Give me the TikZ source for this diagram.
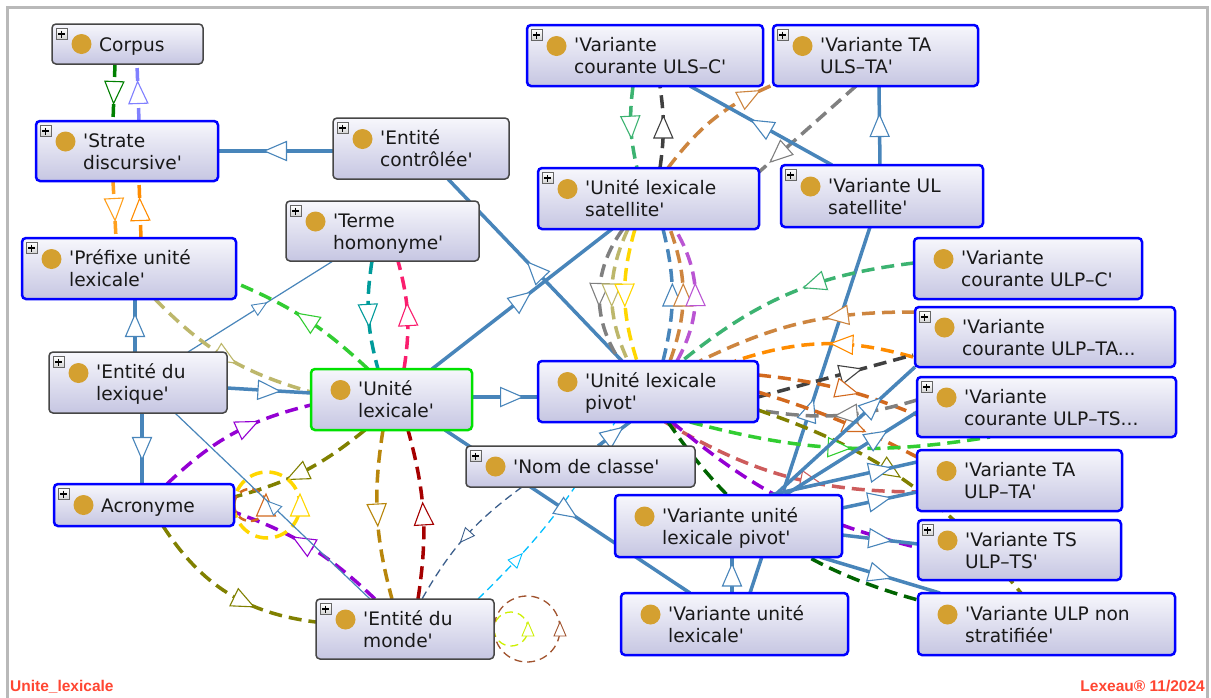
\documentclass[tikz,border=0pt]{standalone}
\usepackage{fontspec}
\setmainfont{DejaVu Sans}[Ligatures=TeXOff]
\newfontfamily\footfont{Liberation Sans}
\usetikzlibrary{calc,decorations.markings}
\pgfdeclarelayer{bg}
\pgfdeclarelayer{edges}
\pgfsetlayers{bg,edges,main}

\definecolor{cSteel}{RGB}{72,133,186}
\definecolor{cDG}{RGB}{0,128,0}
\definecolor{cLB}{RGB}{128,128,255}
\definecolor{cOrA}{RGB}{255,160,30}
\definecolor{cOrB}{RGB}{255,140,0}
\definecolor{cTeal}{RGB}{0,155,155}
\definecolor{cCrim}{RGB}{250,30,110}
\definecolor{cLime}{RGB}{50,205,50}
\definecolor{cKhaki}{RGB}{189,183,107}
\definecolor{cPurp}{RGB}{148,0,211}
\definecolor{cOlive}{RGB}{128,128,0}
\definecolor{cGold}{RGB}{255,215,0}
\definecolor{cChoc}{RGB}{210,105,30}
\definecolor{cDGold}{RGB}{184,134,11}
\definecolor{cDRed}{RGB}{165,0,0}
\definecolor{cSlate}{RGB}{60,95,140}
\definecolor{cSky}{RGB}{0,191,255}
\definecolor{cYG}{RGB}{205,240,0}
\definecolor{cSienna}{RGB}{160,82,45}
\definecolor{cSea}{RGB}{60,179,113}
\definecolor{cDGray}{RGB}{64,64,64}
\definecolor{cGray}{RGB}{128,128,128}
\definecolor{cPeru}{RGB}{205,133,63}
\definecolor{cOrch}{RGB}{186,85,211}
\definecolor{cIRed}{RGB}{205,92,92}
\definecolor{cDGreen}{RGB}{0,100,0}
\definecolor{cDot}{RGB}{212,160,48}
\definecolor{cBoxTop}{RGB}{247,247,252}
\definecolor{cBoxBot}{RGB}{198,198,226}
\definecolor{cBlueB}{RGB}{0,0,255}
\definecolor{cGrayB}{RGB}{70,70,70}
\definecolor{cGreenB}{RGB}{0,225,0}
\definecolor{cFrame}{RGB}{185,185,185}
\definecolor{cFoot}{RGB}{255,70,50}
\definecolor{cText}{RGB}{25,25,25}

\tikzset{
  obox/.style={rectangle, rounded corners=4pt, top color=cBoxTop, bottom color=cBoxBot, inner sep=0pt, outer sep=0pt},
  blueb/.style={draw=cBlueB, line width=2.5pt},
  grayb/.style={draw=cGrayB, line width=1.5pt},
  greenb/.style={draw=cGreenB, line width=2.5pt},
  plusbox/.style={rectangle, minimum size=11pt, inner sep=0pt, draw=gray!80!black, line width=0.6pt, top color=white, bottom color=gray!35},
  plusline/.style={black, line width=1.2pt},
  odot/.style={circle, fill=cDot, minimum size=20pt, inner sep=0pt},
  otext/.style={anchor=west, align=left, inner sep=0pt, font=\fontsize{18.6}{22}\selectfont, text=cText},
  foot/.style={font=\footfont\bfseries\fontsize{15.5}{17}\selectfont, text=cFoot, inner sep=0pt},
  sedge/.style={color=cSteel, line width=3.5pt},
  tedge/.style={color=cSteel, line width=1.2pt},
  dedge/.style={line width=3.5pt, dash pattern=on 13pt off 7pt},
  tdedge/.style={line width=1.3pt, dash pattern=on 8pt off 5pt},
  marr/.style={postaction={decorate,decoration={markings,mark=at position #1 with {\draw[solid,fill=white,line width=1.1pt,line join=miter] (-11pt,-9.5pt) -- (11pt,0pt) -- (-11pt,9.5pt) -- cycle;}}}},
  marr/.default=0.5,
  smarr/.style={postaction={decorate,decoration={markings,mark=at position #1 with {\draw[solid,fill=white,line width=0.9pt,line join=miter] (-7pt,-6pt) -- (7pt,0pt) -- (-7pt,6pt) -- cycle;}}}},
  smarr/.default=0.5,
}

\newcommand\onode[9]{%
  \node[obox,#6,minimum width={(#4-#2)*1pt},minimum height={(#5-#3)*1pt}] (#1) at ({(#2+#4)/2},{(#3+#5)/2}) {};
  \ifnum#7=1
    \node[plusbox] (#1-plus) at ({#2+9.5},{#3+10}) {};
    \draw[plusline] ($(#1-plus)+(-3.5,0)$) -- ($(#1-plus)+(3.5,0)$);
    \draw[plusline] ($(#1-plus)+(0,-3.5)$) -- ($(#1-plus)+(0,3.5)$);
  \fi
  \node[odot] (#1-dot) at ({#2+29.5},{(#3+#5)/2+(#8)}) {};
  \node[otext] (#1-text) at ({#2+47},{(#3+#5)/2+2}) {\rule[-4pt]{0pt}{18pt}#9\rule[-4pt]{0pt}{18pt}};
}

\begin{document}
\begin{tikzpicture}[x=1pt,y=-1pt]
\useasboundingbox (0,0) rectangle (1211,697);
\begin{pgfonlayer}{bg}
\fill[white] (0,0) rectangle (1211,697);
\draw[cFrame, line width=3pt] (7.5,700) -- (7.5,7.5) -- (1207.5,7.5) -- (1207.5,700);
\end{pgfonlayer}

% ---------- nodes ----------
\onode{corpus}{52}{24}{203}{64}{grayb}{1}{0}{Corpus}
\onode{strate}{36}{121}{218}{181}{blueb}{1}{-9.5}{'Strate\\discursive'}
\onode{entctrl}{333}{118}{509}{179}{grayb}{1}{-9.5}{'Entité\\contrôlée'}
\onode{terme}{286}{201}{479}{261}{grayb}{1}{-9.5}{'Terme\\homonyme'}
\onode{prefixe}{22}{238}{236}{299}{blueb}{1}{-9.5}{'Préfixe unité\\lexicale'}
\onode{entlex}{49}{352}{227}{413}{grayb}{1}{-9.5}{'Entité du\\lexique'}
\onode{ul}{311}{369}{472}{430}{greenb}{0}{-9.5}{'Unité\\lexicale'}
\onode{acro}{54}{484}{234}{526}{blueb}{1}{0}{Acronyme}
\onode{entmonde}{316}{599}{494}{659}{grayb}{1}{-9.5}{'Entité du\\monde'}
\onode{nomclasse}{466}{446}{695}{487}{grayb}{1}{0}{'Nom de classe'}
\onode{ulsc}{527}{25}{763}{86}{blueb}{1}{-9.5}{'Variante\\courante ULS–C'}
\onode{ulsta}{773}{25}{978}{86}{blueb}{1}{-9.5}{'Variante TA\\ULS–TA'}
\onode{sat}{538}{168}{759}{229}{blueb}{1}{-9.5}{'Unité lexicale\\satellite'}
\onode{vulsat}{781}{165}{983}{227}{blueb}{1}{-9.5}{'Variante UL\\satellite'}
\onode{ulpc}{914}{238}{1142}{299}{blueb}{0}{-9.5}{'Variante\\courante ULP–C'}
\onode{ulpta}{915}{307}{1175}{367}{blueb}{1}{-9.5}{'Variante\\courante ULP–TA...}
\onode{ulpts}{917}{377}{1176}{437}{blueb}{1}{-9.5}{'Variante\\courante ULP–TS...}
\onode{pivot}{538}{361}{758}{422}{blueb}{0}{-9.5}{'Unité lexicale\\pivot'}
\onode{taulp}{917}{450}{1122}{511}{blueb}{0}{-9.5}{'Variante TA\\ULP–TA'}
\onode{vulp}{615}{495}{842}{557}{blueb}{0}{-9.5}{'Variante unité\\lexicale pivot'}
\onode{tsulp}{918}{520}{1121}{580}{blueb}{1}{-9.5}{'Variante TS\\ULP–TS'}
\onode{vul}{621}{593}{848}{655}{blueb}{0}{-9.5}{'Variante unité\\lexicale'}
\onode{nonstrat}{918}{593}{1175}{655}{blueb}{0}{-9.5}{'Variante ULP non\\stratifiée'}

\node[foot, anchor=base west] (flabel) at (10,691) {Unite\_lexicale};
\node[foot, anchor=base east] (fcopy) at (1205,691) {Lexeau® 11/2024};

% ---------- edges ----------
\begin{pgfonlayer}{edges}
\draw[dedge,color=cDG,marr] ($(corpus)+(-12.5,20)$) -- ($(strate)+(-14,-30)$);
\draw[dedge,color=cLB,marr] ($(strate)+(12,-30)$) -- ($(corpus)+(9.5,20)$);
\draw[dedge,color=cOrA,marr] ($(strate)+(-14,30)$) -- ($(prefixe)+(-13,-30.5)$);
\draw[dedge,color=cOrB,marr] ($(prefixe)+(12,-30.5)$) -- ($(strate)+(12,30)$);
\draw[sedge,marr] ($(entctrl.west)+(0,2.5)$) -- (strate.east);
\draw[sedge,marr] ($(pivot)+(-26,-30.5)$) -- ($(entctrl)+(27,30.5)$);
\draw[sedge,marr] ($(ul)+(40.5,-30.5)$) -- ($(sat)+(-36.5,30.5)$);
\draw[dedge,color=cTeal,marr] ($(terme)+(-10.5,30)$) to[bend right=12] ($(ul)+(-13.5,-30.5)$);
\draw[dedge,color=cCrim,marr] ($(ul)+(12.5,-30.5)$) to[bend right=12] ($(terme)+(15.5,30)$);
\draw[tedge,smarr] ($(entlex)+(50,-30.5)$) -- ($(terme)+(-49.5,30)$);
\draw[dedge,color=cLime,marr] ($(ul)+(-23.5,-30.5)$) to[bend right=10] ($(prefixe)+(107,14.5)$);
\draw[dedge,color=cKhaki,marr] ($(prefixe)+(26,30.5)$) to[bend right=15] ($(ul)+(-80.5,-7.5)$);
\draw[sedge,marr] ($(entlex)+(89,5.5)$) -- ($(ul)+(-80.5,-6.5)$);
\draw[sedge,marr] ($(entlex)+(-3,-30.5)$) -- ($(prefixe)+(6,30.5)$);
\draw[sedge,marr] ($(entlex)+(4,30.5)$) -- ($(acro)+(-2,-21)$);
\draw[dedge,color=cPurp,marr=0.6] ($(acro)+(23,-21)$) to[bend left=15] ($(ul)+(-80.5,5.5)$);
\draw[dedge,color=cPurp,marr=0.55] ($(entmonde)+(-30,-30)$) to[bend right=12] ($(acro)+(90,7)$);
\draw[dedge,color=cOlive,marr=0.6] ($(acro)+(19,21)$) to[bend right=25] ($(entmonde)+(-89,-7)$);
\draw[dedge,color=cOlive,marr=0.55] ($(ul)+(-26.5,30.5)$) to[bend left=12] ($(acro)+(90,-8)$);
\draw[dedge,color=cGold,marr] (acro.east) arc[start angle=180,end angle=540,radius=33pt];
\draw[line width=2.5pt,dash pattern=on 8pt off 5pt,color=cChoc,marr] (acro.east) arc[start angle=180,end angle=540,radius=16pt];
\draw[tedge,smarr] ($(entmonde)+(-35,-30)$) -- ($(entlex)+(37,30.5)$);
\draw[dedge,color=cDGold,marr] ($(ul)+(-8.5,30.5)$) to[bend right=12] ($(entmonde)+(-13,-30)$);
\draw[dedge,color=cDRed,marr] ($(entmonde)+(13,-30)$) to[bend right=12] ($(ul)+(16.5,30.5)$);
\draw[tdedge,color=cSlate,smarr] ($(nomclasse)+(-58.5,20.5)$) to[bend right=12] ($(entmonde)+(17,-30)$);
\draw[tdedge,color=cSky,smarr=0.25] ($(entmonde)+(73,-30)$) to[bend right=8] ($(pivot)+(-33,30.5)$);
\draw[tdedge,color=cYG,smarr] (entmonde.east) arc[start angle=180,end angle=540,radius=17pt];
\draw[tdedge,color=cSienna,smarr] (entmonde.east) arc[start angle=180,end angle=540,radius=33pt];
\draw[sedge,marr] ($(ul)+(53.5,30.5)$) -- ($(vul)+(-44.5,-31)$);
\draw[sedge,marr] ($(nomclasse)+(17.5,-20.5)$) -- ($(pivot)+(-18,30.5)$);
\draw[sedge,marr=0.6] ($(ul)+(80.5,-2.5)$) -- ($(pivot)+(-110,5.5)$);
% satellite and its variants
\draw[dedge,color=cSea,marr] ($(ulsc)+(-12,30.5)$) to[bend right=10] ($(sat)+(-11.5,-30.5)$);
\draw[dedge,color=cDGray,marr] ($(sat)+(11.5,-30.5)$) to[bend right=8] ($(ulsc)+(15,30.5)$);
\draw[dedge,color=cPeru,marr=0.8] ($(sat)+(19.5,-30.5)$) to[bend left=15] ($(ulsta)+(-100.5,28.5)$);
\draw[dedge,color=cGray,marr=0.8] ($(ulsta)+(-19.5,30.5)$) -- ($(sat)+(110.5,-26.5)$);
\draw[sedge,marr] ($(vulsat)+(-50,-31)$) -- ($(ulsc)+(45,30.5)$);
\draw[sedge,marr] ($(vulsat)+(-2,-31)$) -- ($(ulsta)+(3.5,30.5)$);
\draw[sedge,marr] ($(vul)+(15.5,-31)$) -- ($(vulsat)+(-12,31)$);
% satellite <-> pivot
\draw[dedge,color=cGray,marr] ($(sat)+(-25.5,30.5)$) to[bend right=35] ($(pivot)+(-28,-30.5)$);
\draw[dedge,color=cKhaki,marr] ($(sat)+(-20.5,30.5)$) to[bend right=25] ($(pivot)+(-20,-30.5)$);
\draw[dedge,color=cGold,marr] ($(sat)+(-13.5,30.5)$) to[bend right=17] ($(pivot)+(-11,-30.5)$);
\draw[dedge,color=cSteel,marr] ($(pivot)+(15,-30.5)$) to[bend right=14] ($(sat)+(14.5,30.5)$);
\draw[dedge,color=cPeru,marr] ($(pivot)+(22,-30.5)$) to[bend right=20] ($(sat)+(21.5,30.5)$);
\draw[dedge,color=cOrch,marr] ($(pivot)+(29,-30.5)$) to[bend right=30] ($(sat)+(26.5,30.5)$);
% pivot <-> right column
\draw[dedge,color=cSea,marr=0.4] ($(ulpc)+(-114,-5.5)$) to[bend right=16] ($(pivot)+(34,-30.5)$);
\draw[dedge,color=cPeru,marr=0.35] ($(ulpta)+(-130,-25)$) to[bend right=13] ($(pivot)+(52,-30.5)$);
\draw[dedge,color=cOrB,marr=0.4] ($(ulpta)+(-132,20)$) to[bend right=17] ($(pivot)+(87,-30.5)$);
\draw[dedge,color=cDGray,marr=0.6] ($(pivot)+(110,5.5)$) -- ($(ulpta)+(-132,18)$);
\draw[dedge,color=cChoc,marr=0.55] ($(pivot)+(110,-16.5)$) to[bend left=8] ($(ulpts)+(-129.5,8)$);
\draw[dedge,color=cChoc,marr=0.6] ($(pivot)+(110,0.5)$) to[bend left=5] ($(taulp)+(-102.5,-23.5)$);
\draw[dedge,color=cGray,marr=0.45] ($(ulpts)+(-129.5,-7)$) to[bend left=13] ($(pivot)+(110,18.5)$);
\draw[dedge,color=cOlive,marr=0.45] ($(pivot)+(110,18.5)$) to[bend left=16] ($(nonstrat)+(-25.5,-31)$);
\draw[dedge,color=cLime,marr] ($(pivot)+(42,30.5)$) to[bend right=12] ($(ulpts)+(-56.5,30)$);
\draw[dedge,color=cIRed,marr=0.6] ($(pivot)+(17,30.5)$) to[bend right=15] ($(taulp)+(-102.5,11.5)$);
\draw[dedge,color=cPurp,marr] ($(pivot)+(24,30.5)$) to[bend right=13] ($(tsulp)+(-100.5,-2)$);
\draw[dedge,color=cDGreen,marr] ($(pivot)+(20,30.5)$) to[bend right=20] ($(nonstrat)+(-128.5,-24)$);
% variante unite lexicale pivot
\draw[sedge,marr] ($(vul)+(-2.5,-31)$) -- ($(vulp)+(3.5,31)$);
\draw[sedge,marr] ($(vulp)+(113.5,-18)$) -- ($(taulp)+(-102.5,11.5)$);
\draw[sedge,marr] ($(vulp)+(113.5,9)$) -- ($(tsulp)+(-101.5,-6)$);
\draw[sedge,marr] ($(vulp)+(91.5,31)$) -- ($(nonstrat)+(-106.5,-31)$);
\draw[sedge,marr=0.7] ($(vulp)+(46.5,-31)$) -- ($(ulpta)+(-130,30)$);
\draw[sedge,marr=0.7] ($(vulp)+(56.5,-31)$) -- ($(ulpts)+(-129.5,5)$);
\draw[sedge,marr=0.75] ($(vulp)+(41.5,-31)$) -- ($(taulp)+(-102.5,-18.5)$);
\end{pgfonlayer}
\end{tikzpicture}
\end{document}
